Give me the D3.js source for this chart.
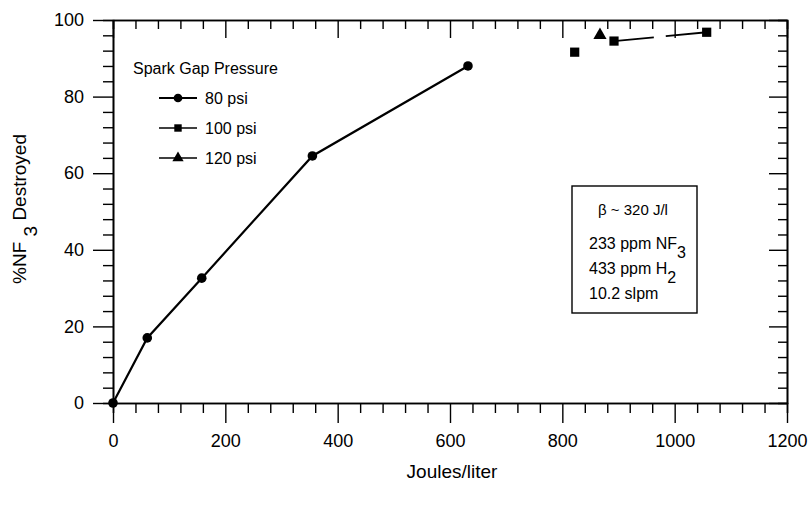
<!DOCTYPE html>
<html>
<head>
<meta charset="utf-8">
<script src="https://cdn.jsdelivr.net/npm/d3@7"></script>
<style>
  body { margin: 0; background: #fff; }
  svg text { font-family: "Liberation Sans", Arial, sans-serif; fill: #000; }
</style>
</head>
<body>
<div id="chart"></div>
<script>
// values
var psi80 = [[0, 0], [61, 17], [158, 32.6], [355, 64.5], [632, 88]];
var psi100 = [[822, 91.6], [892, 94.5], [1057, 96.8]];
var psi120 = [[867, 96.3]];
var xTicks = [0, 200, 400, 600, 800, 1000, 1200];
var yTicks = [0, 20, 40, 60, 80, 100];
var legendNames = ["80 psi", "100 psi", "120 psi"];
var noteLines = [["233 ppm NF", "3"], ["433 ppm H", "2"], ["10.2 slpm", ""]];

var W = 812, H = 505;
var margin = {left: 113, right: 25, top: 20, bottom: 102};

var svg = d3.select("#chart").append("svg")
    .attr("width", W)
    .attr("height", H);

var x = d3.scaleLinear().domain([0, 1200]).range([margin.left, W - margin.right]);
var y = d3.scaleLinear().domain([0, 100]).range([H - margin.bottom, margin.top]);

var xMinor = d3.range(0, 1201, 40).filter(function(d) { return d % 200 != 0; });
var yMinor = d3.range(0, 101, 4).filter(function(d) { return d % 20 != 0; });
var fmt = d3.format("d");

// bottom axis, ticks outward
var gx = svg.append("g").attr("transform", "translate(0," + y(0) + ")");
gx.call(d3.axisBottom(x).tickValues(xTicks).tickFormat(fmt).tickSize(20).tickPadding(11).tickSizeOuter(0));
gx.append("g").call(d3.axisBottom(x).tickValues(xMinor).tickSize(10).tickFormat(""));

// left axis, ticks outward
var gy = svg.append("g").attr("transform", "translate(" + x(0) + ",0)");
gy.call(d3.axisLeft(y).tickValues(yTicks).tickFormat(fmt).tickSize(20).tickPadding(9).tickSizeOuter(0));
gy.append("g").call(d3.axisLeft(y).tickValues(yMinor).tickSize(10).tickFormat(""));

// top and right axes, ticks inside
var gt = svg.append("g").attr("transform", "translate(0," + y(100) + ")");
gt.call(d3.axisBottom(x).tickValues(xTicks).tickSize(18).tickFormat("").tickSizeOuter(0));
gt.append("g").call(d3.axisBottom(x).tickValues(xMinor).tickSize(9).tickFormat(""));

var gr = svg.append("g").attr("transform", "translate(" + x(1200) + ",0)");
gr.call(d3.axisLeft(y).tickValues(yTicks).tickSize(18).tickFormat("").tickSizeOuter(0));
gr.append("g").call(d3.axisLeft(y).tickValues(yMinor).tickSize(9).tickFormat(""));

svg.selectAll(".domain").attr("stroke", "#000").attr("stroke-width", 1.6);
svg.selectAll(".tick line").attr("stroke", "#000").attr("stroke-width", 1.4);
svg.selectAll(".tick text").style("font-size", "18px");

// axis titles
svg.append("text")
    .attr("x", 452)
    .attr("y", 478)
    .attr("text-anchor", "middle")
    .style("font-size", "19px")
    .text("Joules/liter");

var yt = svg.append("text")
    .attr("transform", "translate(26,209) rotate(-90)")
    .attr("text-anchor", "middle")
    .style("font-size", "19px");
yt.append("tspan").text("%NF");
yt.append("tspan").attr("dy", 11).text(" 3");
yt.append("tspan").attr("dy", -11).text(" Destroyed");

// data
var line = d3.line()
    .x(function(d) { return x(d[0]); })
    .y(function(d) { return y(d[1]); });

svg.append("path")
    .datum(psi80)
    .attr("d", line)
    .attr("fill", "none")
    .attr("stroke", "#000")
    .attr("stroke-width", 2.2);

svg.selectAll(".c80")
    .data(psi80)
    .enter().append("circle")
    .attr("class", "c80")
    .attr("cx", function(d) { return x(d[0]); })
    .attr("cy", function(d) { return y(d[1]); })
    .attr("r", 4.8)
    .attr("fill", "#000");

// only the last two 100 psi points are joined
svg.append("path")
    .datum(psi100.slice(1))
    .attr("d", line)
    .attr("fill", "none")
    .attr("stroke", "#000")
    .attr("stroke-width", 1.8)
    .attr("stroke-dasharray", "40,12,200");

var sq = d3.symbol().type(d3.symbolSquare).size(85);
var tri = d3.symbol().type(d3.symbolTriangle).size(75);

svg.selectAll(".s100")
    .data(psi100)
    .enter().append("path")
    .attr("class", "s100")
    .attr("d", sq)
    .attr("transform", function(d) { return "translate(" + x(d[0]) + "," + y(d[1]) + ")"; })
    .attr("fill", "#000");

svg.selectAll(".t120")
    .data(psi120)
    .enter().append("path")
    .attr("class", "t120")
    .attr("d", tri)
    .attr("transform", function(d) { return "translate(" + x(d[0]) + "," + (y(d[1]) + 1) + ")"; })
    .attr("fill", "#000");

// legend
svg.append("text")
    .attr("x", 133)
    .attr("y", 74)
    .style("font-size", "16px")
    .text("Spark Gap Pressure");

var shapes = [d3.symbol().type(d3.symbolCircle).size(60), d3.symbol().type(d3.symbolSquare).size(55), d3.symbol().type(d3.symbolTriangle).size(55)];
var leg = svg.selectAll(".leg")
    .data(legendNames)
    .enter().append("g")
    .attr("class", "leg")
    .attr("transform", function(d, i) { return "translate(159," + (98 + i * 30) + ")"; });
leg.append("line")
    .attr("x1", 0).attr("x2", 38)
    .attr("stroke", "#000")
    .attr("stroke-width", function(d, i) { return i == 0 ? 1.8 : 1.4; });
leg.append("path")
    .attr("d", function(d, i) { return shapes[i](); })
    .attr("transform", "translate(19,0)")
    .attr("fill", "#000");
leg.append("text")
    .attr("x", 46)
    .attr("y", 6)
    .style("font-size", "16px")
    .text(function(d) { return d; });

// note box
svg.append("rect")
    .attr("x", 572).attr("y", 186)
    .attr("width", 125).attr("height", 127)
    .attr("fill", "none")
    .attr("stroke", "#000")
    .attr("stroke-width", 1.4);

svg.append("text")
    .attr("x", 633)
    .attr("y", 215)
    .attr("text-anchor", "middle")
    .style("font-size", "15px")
    .text("\u03b2 ~ 320 J/l");

noteLines.forEach(function(n, i) {
    var t = svg.append("text")
        .attr("x", 589)
        .attr("y", 249 + i * 25)
        .style("font-size", "16px");
    t.append("tspan").text(n[0]);
    if (n[1]) t.append("tspan").attr("dy", 9).text(n[1]);
});
</script>
</body>
</html>
